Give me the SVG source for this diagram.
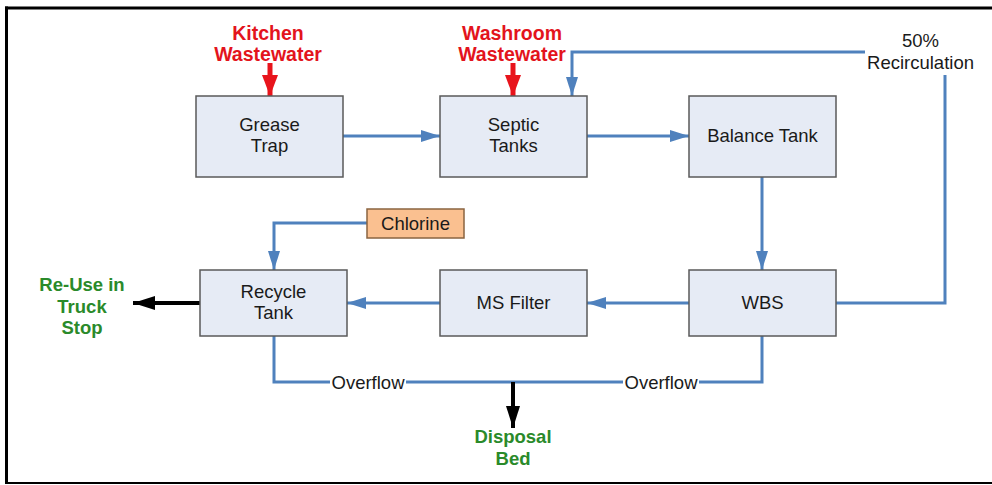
<svg xmlns="http://www.w3.org/2000/svg" width="992" height="485" viewBox="0 0 992 485">
  <style>
    .box { fill: #E6EBF5; stroke: #5A5A5A; stroke-width: 1.5; }
    .dose { fill: #FAC090; stroke: #8A6440; stroke-width: 1.5; }
    .lbl { font-family: "Liberation Sans", Arial, sans-serif; font-size: 18.5px; fill: #1A1A1A; text-anchor: middle; }
    .src { font-family: "Liberation Sans", Arial, sans-serif; font-size: 19.5px; font-weight: bold; fill: #E3141C; text-anchor: middle; }
    .out { font-family: "Liberation Sans", Arial, sans-serif; font-size: 18.5px; font-weight: bold; fill: #2A8A2A; text-anchor: middle; }
    .flow { fill: none; stroke: #4F81BD; stroke-width: 3; }
    .exit { fill: none; stroke: #000; stroke-width: 4; }
    .feed { fill: none; stroke: #E8141C; stroke-width: 5; }
    .frame { stroke: #000; fill: none; }
  </style>
  <defs>
    <marker id="arrBlue" markerUnits="userSpaceOnUse" markerWidth="19" markerHeight="12" refX="19" refY="6" orient="auto">
      <path d="M0,0 L19,6 L0,12 z" fill="#4F81BD"/>
    </marker>
    <marker id="arrBlack" markerUnits="userSpaceOnUse" markerWidth="22" markerHeight="14" refX="22" refY="7" orient="auto">
      <path d="M0,0 L22,7 L0,14 z" fill="#000"/>
    </marker>
    <marker id="arrRed" markerUnits="userSpaceOnUse" markerWidth="21" markerHeight="16" refX="21" refY="8" orient="auto">
      <path d="M0,0 L21,8 L0,16 z" fill="#E8141C"/>
    </marker>
  </defs>

  <rect x="0" y="0" width="992" height="485" fill="#FFFFFF"/>

  <!-- outer frame -->
  <g id="frame">
    <line class="frame" x1="6.5" y1="6.5" x2="6.5" y2="484" stroke-width="3"/>
    <line class="frame" x1="5" y1="8" x2="992" y2="8" stroke-width="3"/>
    <line class="frame" x1="5" y1="483" x2="992" y2="483" stroke-width="2"/>
  </g>

  <!-- connectors -->
  <g id="connectors">
    <path class="flow" d="M343,136 H440" marker-end="url(#arrBlue)"/>
    <path class="flow" d="M587,136 H689" marker-end="url(#arrBlue)"/>
    <path class="flow" d="M762,177 V270" marker-end="url(#arrBlue)"/>
    <path class="flow" d="M689,303 H587" marker-end="url(#arrBlue)"/>
    <path class="flow" d="M440,303 H347" marker-end="url(#arrBlue)"/>
    <path class="flow" d="M367,223 H274 V270" marker-end="url(#arrBlue)"/>
    <path class="flow" d="M836,303 H945 V75"/>
    <path class="flow" d="M865,52 H572 V96" marker-end="url(#arrBlue)"/>
    <path class="flow" d="M274,336 V382 H330"/>
    <path class="flow" d="M406,382 H623"/>
    <path class="flow" d="M699,382 H762 V336"/>
    <path class="exit" d="M513,382 V428" marker-end="url(#arrBlack)"/>
    <path class="exit" d="M200,303 H133" marker-end="url(#arrBlack)"/>
    <path class="feed" d="M270,63 V96" marker-end="url(#arrRed)"/>
    <path class="feed" d="M513,63 V96" marker-end="url(#arrRed)"/>
    <text class="lbl" x="920.5" y="47">50%</text>
    <text class="lbl" x="920.5" y="69">Recirculation</text>
    <text class="lbl" x="368" y="389">Overflow</text>
    <text class="lbl" x="661" y="389">Overflow</text>
  </g>

  <!-- inflows -->
  <g id="kitchen">
    <text class="src" x="268" y="39.5">Kitchen</text>
    <text class="src" x="268" y="61">Wastewater</text>
  </g>
  <g id="washroom">
    <text class="src" x="512" y="39.5">Washroom</text>
    <text class="src" x="512" y="61">Wastewater</text>
  </g>

  <!-- process units -->
  <g id="grease-trap">
    <rect class="box" x="196" y="96" width="147" height="81"/>
    <text class="lbl" x="269.5" y="130.5">Grease</text>
    <text class="lbl" x="269.5" y="152">Trap</text>
  </g>
  <g id="septic-tanks">
    <rect class="box" x="440" y="96" width="147" height="81"/>
    <text class="lbl" x="513.5" y="130.5">Septic</text>
    <text class="lbl" x="513.5" y="152">Tanks</text>
  </g>
  <g id="balance-tank">
    <rect class="box" x="689" y="96" width="147" height="81"/>
    <text class="lbl" x="762.5" y="142">Balance Tank</text>
  </g>
  <g id="chlorine">
    <rect class="dose" x="367" y="209" width="97" height="29"/>
    <text class="lbl" x="415.5" y="229.5">Chlorine</text>
  </g>
  <g id="recycle-tank">
    <rect class="box" x="200" y="270" width="147" height="66"/>
    <text class="lbl" x="273.5" y="297.5">Recycle</text>
    <text class="lbl" x="273.5" y="319">Tank</text>
  </g>
  <g id="ms-filter">
    <rect class="box" x="440" y="270" width="147" height="66"/>
    <text class="lbl" x="513.5" y="309">MS Filter</text>
  </g>
  <g id="wbs">
    <rect class="box" x="689" y="270" width="147" height="66"/>
    <text class="lbl" x="762.5" y="309">WBS</text>
  </g>

  <!-- outlets -->
  <g id="reuse">
    <text class="out" x="82" y="291">Re-Use in</text>
    <text class="out" x="82" y="312.5">Truck</text>
    <text class="out" x="82" y="334">Stop</text>
  </g>
  <g id="disposal-bed">
    <text class="out" x="513" y="443">Disposal</text>
    <text class="out" x="513" y="465">Bed</text>
  </g>
</svg>
